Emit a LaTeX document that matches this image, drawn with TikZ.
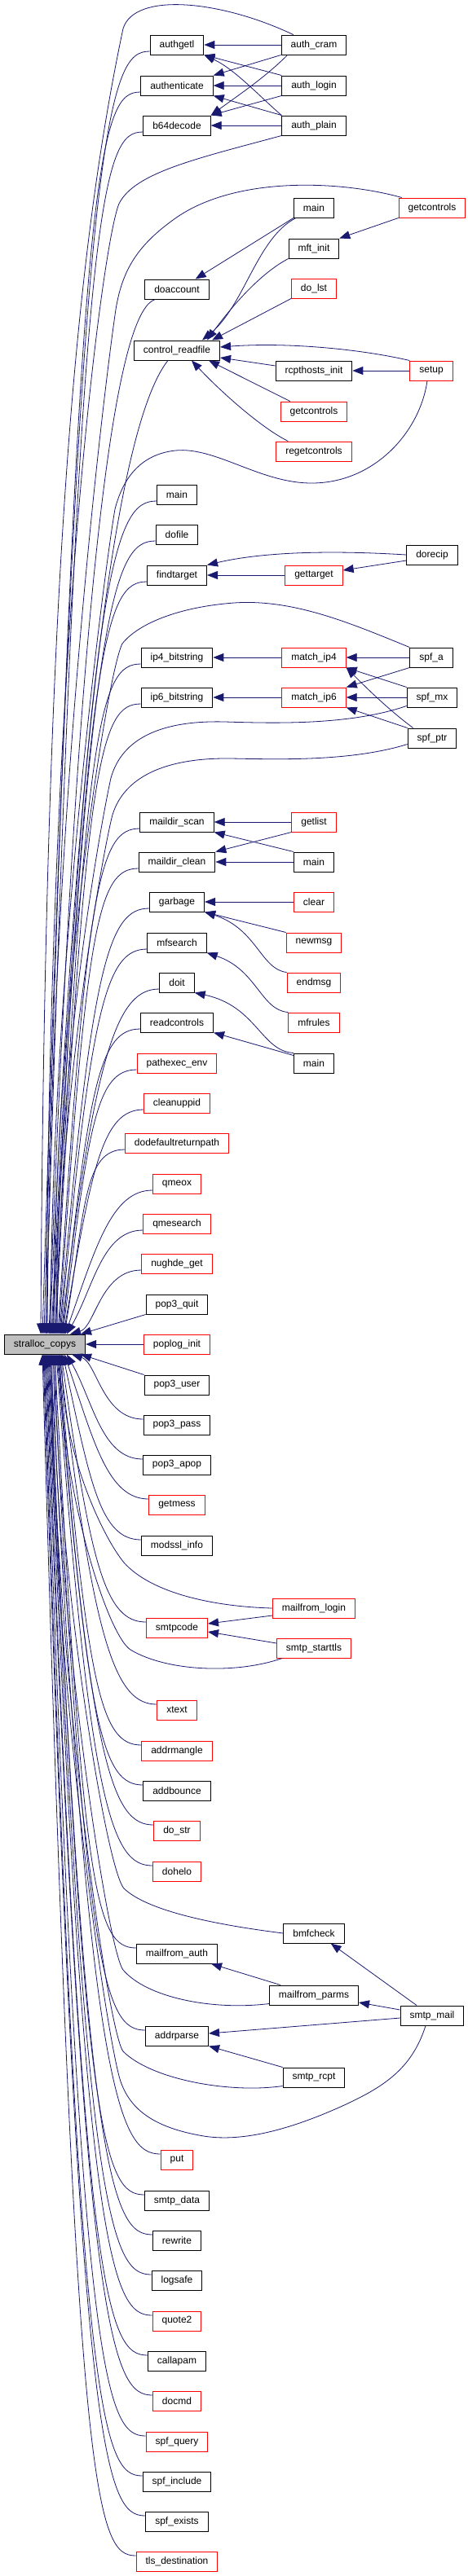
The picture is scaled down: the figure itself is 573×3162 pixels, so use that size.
\documentclass[tikz,border=0pt]{standalone}
\usepackage{fontspec}
\setmainfont{Liberation Sans}
\usetikzlibrary{arrows.meta,calc}
\definecolor{edgec}{HTML}{191970}
\newcommand\fanup[2]{%
  \path (#1) coordinate (fs);
  \path ($(stralloc.north)+(#2-55,0)$) coordinate (fe);
  \path ($(fs)!0.65!(fe)$) coordinate (fm);
  \draw[edge] (fs) .. controls ($(fs)+(-50,0)$) and ($(fm|-fs)+(0,70)$) .. (fe);}
\newcommand\fandown[2]{%
  \path (#1) coordinate (fs);
  \path ($(stralloc.south)+(#2-55,0)$) coordinate (fe);
  \path ($(fs)!0.65!(fe)$) coordinate (fm);
  \draw[edge] (fs) .. controls ($(fs)+(-50,0)$) and ($(fm|-fs)+(0,-70)$) .. (fe);}
\begin{document}
\begin{tikzpicture}[x=1pt,y=-1pt,
  box/.style={draw=black, fill=white, line width=1pt, minimum height=24pt, inner xsep=11.5pt, inner ysep=0pt, font=\fontsize{12}{14}\selectfont},
  rbox/.style={box, draw=red},
  gbox/.style={box, fill=black!25},
  edge/.style={draw=edgec, line width=0.8pt, -{Triangle[length=13pt,width=10pt]}}]
\fill[white] (0,0) rectangle (573,3162);
\useasboundingbox (0,0) rectangle (573,3162);
% ---------- nodes ----------
\node[box] (authgetl) at (217,55) {authgetl};
\node[box] (authenticate) at (217,105) {authenticate};
\node[box] (b64decode) at (217,154) {b64decode};
\node[box] (authcram) at (385,55) {auth\_cram};
\node[box] (authlogin) at (385,105) {auth\_login};
\node[box] (authplain) at (385,154) {auth\_plain};
\node[box] (mainA) at (385,255) {main};
\node[rbox] (getcontrolsR) at (530,255) {getcontrols};
\node[box] (mftinit) at (385,305) {mft\_init};
\node[box] (doaccount) at (217,355) {doaccount};
\node[rbox] (dolst) at (385,354) {do\_lst};
\node[box] (controlreadfile) at (217,430) {control\_readfile};
\node[box] (rcpthostsinit) at (385,455) {rcpthosts\_init};
\node[rbox] (setup) at (529,455) {setup};
\node[rbox] (getcontrolsM) at (385,505) {getcontrols};
\node[rbox] (regetcontrols) at (385,554) {regetcontrols};
\node[box] (mainD) at (217,607) {main};
\node[box] (dofile) at (217,656) {dofile};
\node[box] (dorecip) at (530,681) {dorecip};
\node[box] (findtarget) at (217,706) {findtarget};
\node[rbox] (gettarget) at (385,706) {gettarget};
\node[box] (ipfour) at (217,807) {ip4\_bitstring};
\node[rbox] (matchipfour) at (385,807) {match\_ip4};
\node[box] (spfa) at (529,807) {spf\_a};
\node[box] (ipsix) at (217,856) {ip6\_bitstring};
\node[rbox] (matchipsix) at (385,856) {match\_ip6};
\node[box] (spfmx) at (530,856) {spf\_mx};
\node[box] (spfptr) at (530,906) {spf\_ptr};
\node[box] (maildirscan) at (217,1009) {maildir\_scan};
\node[rbox] (getlist) at (385,1009) {getlist};
\node[box] (maildirclean) at (217,1058) {maildir\_clean};
\node[box] (mainB) at (385,1058) {main};
\node[box] (garbage) at (217,1107) {garbage};
\node[rbox] (clear) at (385,1107) {clear};
\node[box] (mfsearch) at (217,1157) {mfsearch};
\node[rbox] (newmsg) at (385,1157) {newmsg};
\node[box] (doit) at (217,1206) {doit};
\node[rbox] (endmsg) at (385,1206) {endmsg};
\node[box] (readcontrols) at (217,1255) {readcontrols};
\node[rbox] (mfrules) at (385,1255) {mfrules};
\node[rbox] (pathexecenv) at (217,1305) {pathexec\_env};
\node[box] (mainC) at (385,1305) {main};
\node[rbox] (cleanuppid) at (217,1354) {cleanuppid};
\node[rbox] (dodefault) at (217,1403) {dodefaultreturnpath};
\node[rbox] (qmeox) at (217,1453) {qmeox};
\node[rbox] (qmesearch) at (217,1502) {qmesearch};
\node[rbox] (nughdeget) at (217,1551) {nughde\_get};
\node[box] (popquit) at (217,1601) {pop3\_quit};
\node[gbox] (stralloc) at (55,1650) {stralloc\_copys};
\node[rbox] (poploginit) at (217,1650) {poplog\_init};
\node[box] (popuser) at (217,1700) {pop3\_user};
\node[box] (poppass) at (217,1749) {pop3\_pass};
\node[box] (popapop) at (217,1798) {pop3\_apop};
\node[rbox] (getmess) at (217,1847) {getmess};
\node[box] (modsslinfo) at (217,1897) {modssl\_info};
\node[rbox] (mailfromlogin) at (385,1974) {mailfrom\_login};
\node[rbox] (smtpcode) at (217,1998) {smtpcode};
\node[rbox] (smtpstarttls) at (385,2023) {smtp\_starttls};
\node[rbox] (xtext) at (217,2099) {xtext};
\node[rbox] (addrmangle) at (217,2149) {addrmangle};
\node[box] (addbounce) at (217,2198) {addbounce};
\node[rbox] (dostr) at (217,2247) {do\_str};
\node[rbox] (dohelo) at (217,2297) {dohelo};
\node[box] (bmfcheck) at (385,2373) {bmfcheck};
\node[box] (mailfromauth) at (217,2398) {mailfrom\_auth};
\node[box] (mailfromparms) at (385,2449) {mailfrom\_parms};
\node[box] (smtpmail) at (530,2474) {smtp\_mail};
\node[box] (addrparse) at (217,2499) {addrparse};
\node[box] (smtprcpt) at (385,2550) {smtp\_rcpt};
\node[rbox] (put) at (217,2651) {put};
\node[box] (smtpdata) at (217,2701) {smtp\_data};
\node[box] (rewrite) at (217,2750) {rewrite};
\node[box] (logsafe) at (217,2799) {logsafe};
\node[rbox] (quotetwo) at (217,2849) {quote2};
\node[box] (callapam) at (217,2898) {callapam};
\node[rbox] (docmd) at (217,2947) {docmd};
\node[rbox] (spfquery) at (217,2997) {spf\_query};
\node[box] (spfinclude) at (217,3046) {spf\_include};
\node[box] (spfexists) at (217,3095) {spf\_exists};
\node[rbox] (tlsdest) at (217,3144) {tls\_destination};
% ---------- local edges ----------
\draw[edge] (authcram) -- (authgetl);
\draw[edge] (authcram.south west) -- (authenticate.north east);
\draw[edge] ($(authcram.south west)+(8,0)$) .. controls (325,95) and (295,115) .. (b64decode.north east);
\draw[edge] (authlogin.north west) -- (authgetl.south east);
\draw[edge] (authlogin) -- (authenticate);
\draw[edge] (authlogin.south west) -- (b64decode.north east);
\draw[edge] (authplain.north west) .. controls (318,118) and (288,85) .. (authgetl.south east);
\draw[edge] (authplain.north west) -- (authenticate.south east);
\draw[edge] (authplain) -- (b64decode);
\draw[edge] (mainA.south west) -- ($(doaccount.north east)+(-17,0)$);
\draw[edge] ($(mainA.south west)+(3,0)$) .. controls (315,292) and (300,375) .. ($(controlreadfile.north east)+(-22,0)$);
\draw[edge] (getcontrolsR.south west) -- (mftinit.north east);
\draw[edge] (mftinit.south west) .. controls (320,335) and (285,375) .. ($(controlreadfile.north east)+(-16,0)$);
\draw[edge] (dolst.south west) -- ($(controlreadfile.north east)+(-10,0)$);
\draw[edge] (setup.north west) .. controls (440,428) and (350,420) .. ($(controlreadfile.east)+(0,-4)$);
\draw[edge] ($(rcpthostsinit.west)+(0,-6)$) -- ($(controlreadfile.east)+(0,9)$);
\draw[edge] (setup) -- (rcpthostsinit);
\draw[edge] ($(getcontrolsM.north west)+(12,0)$) -- ($(controlreadfile.south east)+(-14,0)$);
\draw[edge] ($(regetcontrols.north west)+(15,0)$) .. controls (320,525) and (270,480) .. ($(controlreadfile.south)+(18,0)$);
\draw[edge] (dorecip.west) .. controls (400,675) and (320,678) .. (findtarget.north east);
\draw[edge] ($(dorecip.west)+(0,7)$) -- ($(gettarget.east)+(0,-6)$);
\draw[edge] (gettarget) -- (findtarget);
\draw[edge] (matchipfour) -- (ipfour);
\draw[edge] (matchipsix) -- (ipsix);
\draw[edge] (spfa) -- (matchipfour);
\draw[edge] (spfa.south west) -- (matchipsix.north east);
\draw[edge] (spfmx.north west) -- (matchipfour.south east);
\draw[edge] (spfmx) -- (matchipsix);
\draw[edge] ($(spfptr.north west)+(7,0)$) .. controls (475,870) and (445,840) .. (matchipfour.south east);
\draw[edge] (spfptr.north west) -- (matchipsix.south east);
\draw[edge] (getlist) -- (maildirscan);
\draw[edge] (getlist.south west) -- (maildirclean.north east);
\draw[edge] (mainB.north west) -- (maildirscan.south east);
\draw[edge] (mainB) -- (maildirclean);
\draw[edge] (clear) -- (garbage);
\draw[edge] (newmsg.north west) -- (garbage.south east);
\draw[edge] (endmsg.north west) .. controls (320,1190) and (315,1140) .. (garbage.south east);
\draw[edge] (mfrules.north west) .. controls (320,1240) and (315,1190) .. (mfsearch.south east);
\draw[edge] (mainC.north west) .. controls (320,1290) and (315,1235) .. (doit.south east);
\draw[edge] ($(mainC.north west)+(0,3)$) -- (readcontrols.south east);
\draw[edge] (poploginit) -- (stralloc);
\draw[edge] ($(mailfromlogin.west)+(0,9)$) -- ($(smtpcode.east)+(0,-5)$);
\draw[edge] ($(smtpstarttls.west)+(0,-6)$) -- ($(smtpcode.east)+(0,5)$);
\draw[edge] ($(smtpmail.north)+(-19,0)$) -- ($(bmfcheck.south east)+(-17,0)$);
\draw[edge] ($(smtpmail.west)+(0,-7)$) -- ($(mailfromparms.east)+(0,9)$);
\draw[edge] ($(smtpmail.west)+(0,3)$) -- ($(addrparse.east)+(0,-3)$);
\draw[edge] ($(mailfromparms.north west)+(14,0)$) -- ($(mailfromauth.south east)+(-8,0)$);
\draw[edge] (smtprcpt.north west) -- (addrparse.south east);
% ---------- fan into stralloc_copys (above) ----------
\draw[edge] ($(authcram.north west)+(15,0)$) .. controls (270,0) and (165,-10) .. (151,35) .. controls (95,300) and (55,700) .. ($(stralloc.north)+(-5,0)$);
\fanup{$(authgetl.west)+(0,8)$}{52}
\fanup{$(authenticate.west)+(0,8)$}{54}
\fanup{$(b64decode.west)+(0,8)$}{56}
\draw[edge] (authplain.south west) .. controls (240,195) and (165,212) .. (146,250) .. controls (125,300) and (60,800) .. ($(stralloc.north)+(2,0)$);
\draw[edge] ($(getcontrolsR.north west)+(4,0)$) .. controls (420,222) and (290,215) .. (215,268) .. controls (170,300) and (150,330) .. (142,380) .. controls (130,460) and (62,1000) .. ($(stralloc.north)+(3,0)$);
\draw[edge] ($(doaccount.south west)+(13,0)$) .. controls (150,380) and (100,600) .. ($(stralloc.north)+(5,0)$);
\draw[edge] ($(controlreadfile.south)+(-11,0)$) .. controls (160,500) and (100,750) .. ($(stralloc.north)+(6,0)$);
\draw[edge] ($(setup.south)+(-5,0)$) .. controls (515,530) and (460,592) .. (384,593) .. controls (320,594) and (265,548) .. (215,553) .. controls (170,558) and (150,590) .. (141,625) .. controls (128,700) and (63,1200) .. ($(stralloc.north)+(7,0)$);
\fanup{$(mainD.west)+(0,8)$}{63}
\fanup{$(dofile.west)+(0,8)$}{64}
\fanup{$(findtarget.west)+(0,8)$}{65}
\draw[edge] (spfa.north west) .. controls (430,765) and (360,735) .. (287,740) .. controls (220,745) and (170,765) .. (150,790) .. controls (130,830) and (66,1250) .. ($(stralloc.north)+(11,0)$);
\fanup{$(ipfour.west)+(0,8)$}{67}
\fanup{$(ipsix.west)+(0,8)$}{68}
\draw[edge] ($(spfmx.south west)+(0,-2)$) .. controls (430,890) and (340,888) .. (276,886) .. controls (200,884) and (150,905) .. (136,955) .. controls (124,1010) and (70,1300) .. ($(stralloc.north)+(14,0)$);
\draw[edge] ($(spfptr.south west)+(0,-5)$) .. controls (430,935) and (340,932) .. (283,931) .. controls (200,930) and (152,955) .. (138,1000) .. controls (125,1050) and (72,1350) .. ($(stralloc.north)+(15,0)$);
\fanup{$(maildirscan.west)+(0,8)$}{71}
\fanup{$(maildirclean.west)+(0,8)$}{72}
\fanup{$(garbage.west)+(0,8)$}{73}
\fanup{$(mfsearch.west)+(0,8)$}{74}
\fanup{$(doit.west)+(0,8)$}{75}
\fanup{$(readcontrols.west)+(0,8)$}{76}
\fanup{$(pathexecenv.west)+(0,8)$}{77}
\fanup{$(cleanuppid.west)+(0,8)$}{78}
\fanup{$(dodefault.west)+(0,8)$}{79}
\fanup{$(qmeox.west)+(0,8)$}{80}
\fanup{$(qmesearch.west)+(0,8)$}{82}
\fanup{$(nughdeget.west)+(0,8)$}{86}
\draw[edge] (popquit.south west) -- ($(stralloc.north)+(44,0)$);
% ---------- fan into stralloc_copys (below) ----------
\draw[edge] (popuser.north west) -- ($(stralloc.south)+(44,0)$);
\fandown{$(poppass.west)+(0,-7)$}{88}
\fandown{$(popapop.west)+(0,-7)$}{82}
\fandown{$(getmess.west)+(0,-7)$}{79}
\fandown{$(modsslinfo.west)+(0,-7)$}{77}
\draw[edge] (mailfromlogin.west) .. controls (260,1972) and (185,1955) .. (152,1918) .. controls (125,1885) and (76,1780) .. ($(stralloc.south)+(21,0)$);
\fandown{$(smtpcode.west)+(0,-7)$}{75}
\draw[edge] ($(smtpstarttls.south west)+(7,0)$) .. controls (290,2055) and (205,2052) .. (160,2025) .. controls (130,2005) and (74,1820) .. ($(stralloc.south)+(19,0)$);
\fandown{$(xtext.west)+(0,-7)$}{73}
\fandown{$(addrmangle.west)+(0,-7)$}{72}
\fandown{$(addbounce.west)+(0,-7)$}{71}
\fandown{$(dostr.west)+(0,-7)$}{70}
\fandown{$(dohelo.west)+(0,-7)$}{69}
\draw[edge] (bmfcheck.west) .. controls (260,2362) and (180,2345) .. (152,2318) .. controls (128,2290) and (68,1900) .. ($(stralloc.south)+(13,0)$);
\fandown{$(mailfromauth.west)+(0,-7)$}{67}
\draw[edge] ($(mailfromparms.south west)+(0,-2)$) .. controls (260,2468) and (180,2452) .. (151,2418) .. controls (130,2390) and (66,1950) .. ($(stralloc.south)+(11,0)$);
\fandown{$(addrparse.west)+(0,-7)$}{65}
\draw[edge] ($(smtprcpt.south west)+(0,-2)$) .. controls (280,2570) and (185,2552) .. (151,2518) .. controls (130,2490) and (64,2000) .. ($(stralloc.south)+(9,0)$);
\draw[edge] ($(smtpmail.south)+(-8,0)$) .. controls (505,2540) and (470,2562) .. (420,2585) .. controls (360,2612) and (300,2630) .. (250,2622) .. controls (190,2612) and (160,2590) .. (148,2555) .. controls (132,2510) and (63,2050) .. ($(stralloc.south)+(8,0)$);
\fandown{$(put.west)+(0,-7)$}{62}
\fandown{$(smtpdata.west)+(0,-7)$}{61}
\fandown{$(rewrite.west)+(0,-7)$}{60}
\fandown{$(logsafe.west)+(0,-7)$}{59}
\fandown{$(quotetwo.west)+(0,-7)$}{58}
\fandown{$(callapam.west)+(0,-7)$}{57}
\fandown{$(docmd.west)+(0,-7)$}{56}
\fandown{$(spfquery.west)+(0,-7)$}{55}
\fandown{$(spfinclude.west)+(0,-7)$}{54}
\fandown{$(spfexists.west)+(0,-7)$}{53}
\fandown{$(tlsdest.west)+(0,-7)$}{52}
\end{tikzpicture}
\end{document}
